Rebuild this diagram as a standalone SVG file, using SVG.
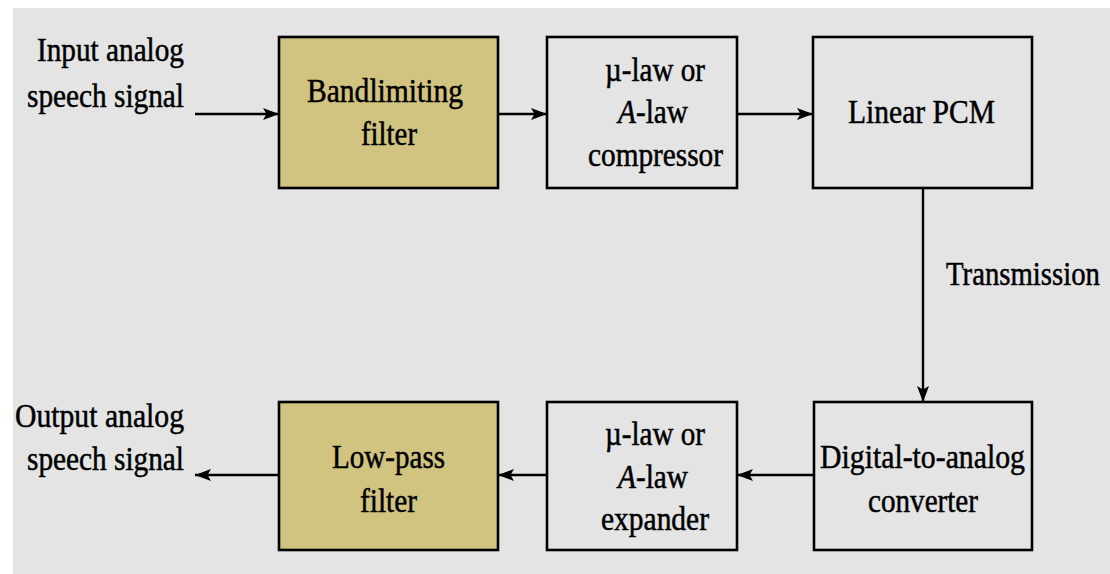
<svg xmlns="http://www.w3.org/2000/svg" width="1110" height="574" viewBox="0 0 1110 574">
  <defs>
    <marker id="arrow" viewBox="0 0 16 12" refX="16" refY="6" markerWidth="16" markerHeight="12" markerUnits="userSpaceOnUse" orient="auto">
      <path d="M0,0 L16,6 L0,12 L3.5,6 Z" fill="#000"/>
    </marker>
    <style>
      .box { stroke: #000; stroke-width: 2.6; }
      .plain { fill: #e4e4e4; }
      .tan { fill: #d1c380; }
      .lbl { font-family: "Liberation Serif", "Times New Roman", serif; font-size: 34px; fill: #000; stroke: #000; stroke-width: 0.5; }
      .wire { fill: none; stroke: #000; stroke-width: 2.4; marker-end: url(#arrow); }
    </style>
  </defs>

  <!-- page -->
  <rect x="0" y="0" width="1110" height="574" fill="#ffffff"/>
  <rect x="13" y="8" width="1097" height="566" fill="#e4e4e4"/>

  <!-- connectors -->
  <g id="connectors">
    <line class="wire" x1="195" y1="114" x2="279" y2="114"/>
    <line class="wire" x1="498" y1="114" x2="547" y2="114"/>
    <line class="wire" x1="737" y1="114" x2="813" y2="114"/>
    <line class="wire" x1="923" y1="188" x2="923" y2="402"/>
    <line class="wire" x1="814" y1="475" x2="737" y2="475"/>
    <line class="wire" x1="547" y1="475" x2="498" y2="475"/>
    <line class="wire" x1="279" y1="475" x2="195" y2="475"/>
  </g>

  <!-- terminal labels -->
  <g id="input-label">
    <text class="lbl" x="37" y="61" textLength="147" lengthAdjust="spacingAndGlyphs">Input analog</text>
    <text class="lbl" x="27" y="107" textLength="157" lengthAdjust="spacingAndGlyphs">speech signal</text>
  </g>
  <g id="output-label">
    <text class="lbl" x="15" y="427" textLength="169" lengthAdjust="spacingAndGlyphs">Output analog</text>
    <text class="lbl" x="27" y="470" textLength="157" lengthAdjust="spacingAndGlyphs">speech signal</text>
  </g>
  <g id="transmission-label">
    <text class="lbl" x="946" y="285" textLength="154" lengthAdjust="spacingAndGlyphs">Transmission</text>
  </g>

  <!-- top row -->
  <g id="bandlimiting-filter">
    <rect class="box tan" x="279" y="37" width="219" height="151"/>
    <text class="lbl" x="307" y="102" textLength="156" lengthAdjust="spacingAndGlyphs">Bandlimiting</text>
    <text class="lbl" x="361" y="145" textLength="56" lengthAdjust="spacingAndGlyphs">filter</text>
  </g>
  <g id="compressor">
    <rect class="box plain" x="547" y="37" width="190" height="151"/>
    <text class="lbl" x="605" y="81" textLength="100" lengthAdjust="spacingAndGlyphs">µ-law or</text>
    <text class="lbl" x="618" y="123" textLength="70" lengthAdjust="spacingAndGlyphs"><tspan font-style="italic">A</tspan>-law</text>
    <text class="lbl" x="588" y="166" textLength="135" lengthAdjust="spacingAndGlyphs">compressor</text>
  </g>
  <g id="linear-pcm">
    <rect class="box plain" x="813" y="37" width="219" height="151"/>
    <text class="lbl" x="848" y="123" textLength="147" lengthAdjust="spacingAndGlyphs">Linear PCM</text>
  </g>

  <!-- bottom row -->
  <g id="low-pass-filter">
    <rect class="box tan" x="279" y="402" width="219" height="148"/>
    <text class="lbl" x="332" y="468" textLength="113" lengthAdjust="spacingAndGlyphs">Low-pass</text>
    <text class="lbl" x="360" y="512" textLength="57" lengthAdjust="spacingAndGlyphs">filter</text>
  </g>
  <g id="expander">
    <rect class="box plain" x="547" y="402" width="190" height="148"/>
    <text class="lbl" x="605" y="445" textLength="100" lengthAdjust="spacingAndGlyphs">µ-law or</text>
    <text class="lbl" x="618" y="488" textLength="70" lengthAdjust="spacingAndGlyphs"><tspan font-style="italic">A</tspan>-law</text>
    <text class="lbl" x="601" y="530" textLength="108" lengthAdjust="spacingAndGlyphs">expander</text>
  </g>
  <g id="dac">
    <rect class="box plain" x="814" y="402" width="218" height="148"/>
    <text class="lbl" x="820" y="468" textLength="205" lengthAdjust="spacingAndGlyphs">Digital-to-analog</text>
    <text class="lbl" x="868" y="512" textLength="110" lengthAdjust="spacingAndGlyphs">converter</text>
  </g>
</svg>
